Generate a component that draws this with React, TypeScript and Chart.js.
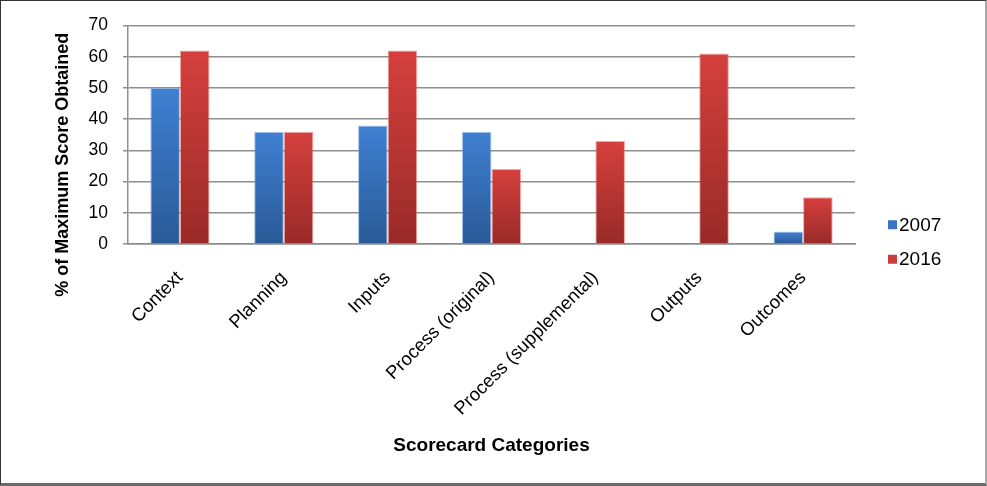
import React, { useEffect, useRef } from 'react';
import { Chart, registerables } from 'chart.js';

Chart.register(...registerables);

const categories = [
  'Context',
  'Planning',
  'Inputs',
  'Process (original)',
  'Process (supplemental)',
  'Outputs',
  'Outcomes',
];
const values2007: (number | null)[] = [50, 36, 38, 36, null, null, 4];
const values2016: (number | null)[] = [62, 36, 62, 24, 33, 61, 15];
const seriesNames = ['2007', '2016'];
const yMin = 0;
const yMax = 70;
const yStep = 10;
const yTitle = '% of Maximum Score Obtained';
const xTitle = 'Scorecard Categories';

const FONT = '"Liberation Sans", Arial, Helvetica, sans-serif';

const palettes = [
  { top: '#3F80D2', bottom: '#2A5A97', edge: 'rgba(110,160,230,0.6)', legend: '#3A74C2' },
  { top: '#D5403D', bottom: '#992A27', edge: 'rgba(235,110,105,0.6)', legend: '#C83E3A' },
];

function gradientFor(idx: number) {
  return (ctx: any) => {
    const chart = ctx.chart;
    const pal = palettes[idx];
    if (!chart.chartArea || ctx.type !== 'data') return pal.top;
    const v = ctx.raw;
    if (v == null) return pal.top;
    const y = chart.scales.y;
    const top = y.getPixelForValue(v);
    const bottom = y.getPixelForValue(0);
    if (bottom - top < 1) return pal.top;
    const g = chart.ctx.createLinearGradient(0, top, 0, bottom);
    g.addColorStop(0, pal.top);
    g.addColorStop(1, pal.bottom);
    return g;
  };
}

const yTitlePlugin = {
  id: 'yTitleCustom',
  afterDraw(chart: any) {
    const { ctx, chartArea } = chart;
    ctx.save();
    ctx.translate(chartArea.left - 65, (chartArea.top + chartArea.bottom) / 2 + 30);
    ctx.rotate(-Math.PI / 2);
    ctx.font = `bold 18px ${FONT}`;
    ctx.fillStyle = '#000';
    ctx.textAlign = 'center';
    ctx.textBaseline = 'middle';
    ctx.fillText(yTitle, 0, 0);
    ctx.restore();
  },
};

const legendPlugin = {
  id: 'legendCustom',
  afterDraw(chart: any) {
    const { ctx, chartArea } = chart;
    ctx.save();
    ctx.font = `19px ${FONT}`;
    ctx.textAlign = 'left';
    ctx.textBaseline = 'middle';
    const x = chartArea.right + 33;
    const spacing = 34.5;
    const startY = chart.height / 2 - 1 - spacing / 2;
    chart.data.datasets.forEach((ds: any, i: number) => {
      const cy = startY + i * spacing;
      ctx.fillStyle = palettes[i].legend;
      ctx.fillRect(x, cy - 4.5, 9, 9);
      ctx.fillStyle = '#000';
      ctx.fillText(ds.label, x + 11, cy + 1);
    });
    ctx.restore();
  },
};

export default function App() {
  const canvasRef = useRef<HTMLCanvasElement | null>(null);

  useEffect(() => {
    if (!canvasRef.current) return;
    const chart = new Chart(canvasRef.current, {
      type: 'bar',
      data: {
        labels: categories,
        datasets: [
          {
            label: seriesNames[0],
            data: values2007,
            backgroundColor: gradientFor(0),
            borderColor: palettes[0].edge,
            borderWidth: 1,
            categoryPercentage: 0.57,
            barPercentage: 1,
          },
          {
            label: seriesNames[1],
            data: values2016,
            backgroundColor: gradientFor(1),
            borderColor: palettes[1].edge,
            borderWidth: 1,
            categoryPercentage: 0.57,
            barPercentage: 1,
          },
        ],
      },
      options: {
        responsive: false,
        animation: false,
        layout: { padding: { top: 25, right: 132, left: 0, bottom: 0 } },
        plugins: {
          legend: { display: false },
          tooltip: { enabled: false },
          title: { display: false },
        },
        scales: {
          x: {
            grid: { display: false },
            border: { display: true, color: '#8a8a8a', width: 1.5 },
            ticks: {
              color: '#000',
              font: { family: FONT, size: 18.5 },
              minRotation: 45,
              maxRotation: 45,
              padding: 15,
              autoSkip: false,
            },
            title: {
              display: true,
              text: xTitle,
              color: '#000',
              font: { family: FONT, size: 19, weight: 'bold' },
              padding: { top: 0, bottom: 29 },
            },
            afterFit: (s: any) => {
              s.height = 242;
            },
          },
          y: {
            min: yMin,
            max: yMax,
            grid: {
              color: '#8f8f8f',
              lineWidth: 1.5,
              tickLength: 5,
              tickColor: '#8f8f8f',
            },
            border: { display: true, color: '#8f8f8f', width: 1.5 },
            ticks: {
              stepSize: yStep,
              color: '#000',
              font: { family: FONT, size: 17.5 },
              padding: 15,
            },
            afterFit: (s: any) => {
              s.width = 128;
            },
          },
        },
      },
      plugins: [yTitlePlugin, legendPlugin],
    });
    return () => chart.destroy();
  }, []);

  return (
    <div style={{ position: 'absolute', left: 0, top: 0, width: 987, height: 486, background: '#fff' }}>
      <canvas ref={canvasRef} width={987} height={486} style={{ display: 'block', width: 987, height: 486 }} />
      <div
        style={{
          position: 'absolute',
          left: 0,
          top: 0,
          width: 987,
          height: 486,
          boxSizing: 'border-box',
          borderTop: '1px solid #333',
          borderLeft: '1px solid #333',
          borderRight: '2px solid #aaa',
          borderBottom: '3px solid #6b6b6b',
          pointerEvents: 'none',
        }}
      />
    </div>
  );
}
